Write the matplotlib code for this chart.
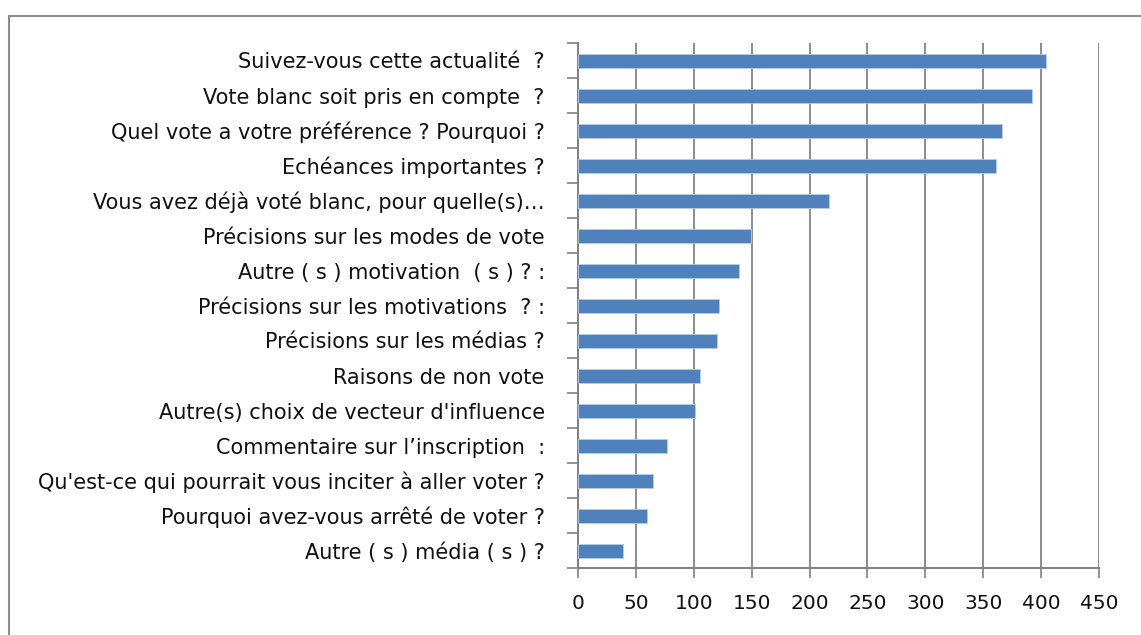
import matplotlib
matplotlib.use("Agg")
import matplotlib.pyplot as plt
from matplotlib.patches import Rectangle
import numpy as np

categories = [
    "Suivez-vous cette actualité  ?",
    "Vote blanc soit pris en compte  ?",
    "Quel vote a votre préférence ? Pourquoi ?",
    "Echéances importantes ?",
    "Vous avez déjà voté blanc, pour quelle(s)…",
    "Précisions sur les modes de vote",
    "Autre ( s ) motivation  ( s ) ? :",
    "Précisions sur les motivations  ? :",
    "Précisions sur les médias ?",
    "Raisons de non vote",
    "Autre(s) choix de vecteur d'influence",
    "Commentaire sur l’inscription  :",
    "Qu'est-ce qui pourrait vous inciter à aller voter ?",
    "Pourquoi avez-vous arrêté de voter ?",
    "Autre ( s ) média ( s ) ?",
]
values = [404, 392, 366, 361, 217, 149, 139, 122, 120, 105, 101, 77, 65, 60, 39]
xticks = [0, 50, 100, 150, 200, 250, 300, 350, 400, 450]

plt.rcParams['font.family'] = ['DejaVu Sans']

fig = plt.figure(figsize=(11.41, 6.35), dpi=100)
ax = fig.add_axes([578/1141, 1 - 568/635, (1099-578)/1141, (568-43)/635])

n = len(categories)
y = np.arange(n)
ax.barh(y, values, height=0.4, color="#4F81BD", edgecolor="#B9CDE5", linewidth=0.6, zorder=3)
ax.set_ylim(n - 0.5, -0.5)
ax.set_xlim(0, 450)
ax.set_xticks(xticks)
ax.set_xticklabels([str(v) for v in xticks], fontsize=14.5, color="#111111")
ax.set_yticks(y)
ax.set_yticklabels(categories, fontsize=15, color="#111111")
ax.set_yticks(np.arange(n + 1) - 0.5, minor=True)
ax.tick_params(axis='y', which='major', length=0, pad=24)
ax.tick_params(axis='y', which='minor', length=8, width=1.2, color="#808080", direction='out')
ax.tick_params(axis='x', which='major', length=7, width=1.2, color="#808080", direction='out', pad=12)
ax.grid(axis='x', color="#8C8C8C", linewidth=1.4, zorder=0)
for s in ['top', 'right']:
    ax.spines[s].set_visible(False)
for s in ['left', 'bottom']:
    ax.spines[s].set_color("#808080")
    ax.spines[s].set_linewidth(1.4)

fig.patches.append(Rectangle((9/1141, -0.05), 1.2, 1 - 16/635 + 0.05,
                             transform=fig.transFigure, fill=False,
                             edgecolor="#8C8C8C", linewidth=1.5))

fig.savefig("out.png", dpi=100)
